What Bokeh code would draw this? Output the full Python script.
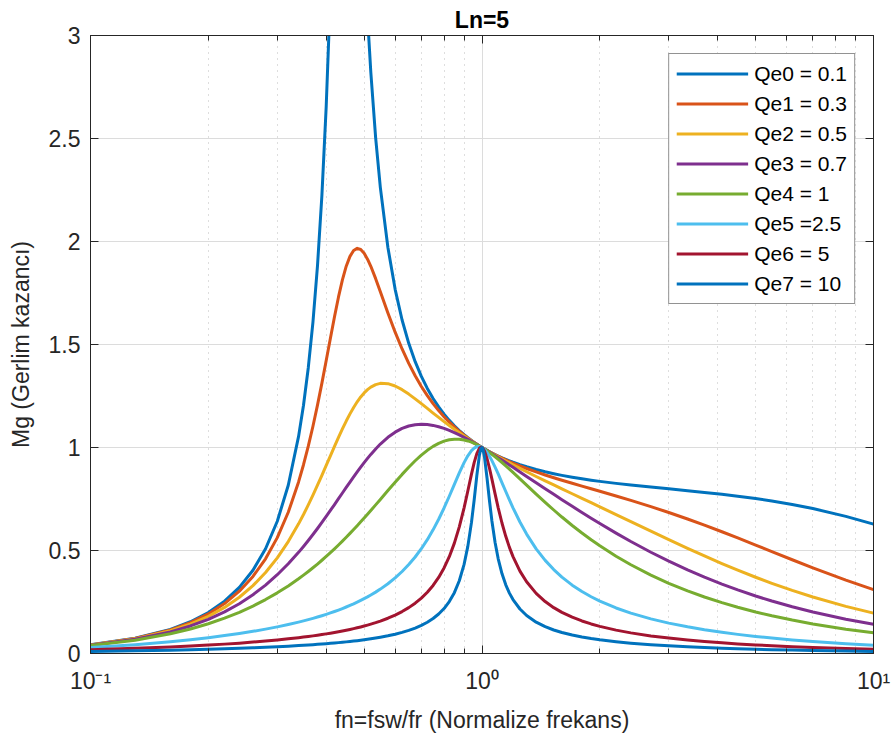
from bokeh.plotting import figure
from bokeh.models import FixedTicker, LogAxis, LinearAxis, Legend, LegendItem, Range1d
from bokeh.embed import file_html
from bokeh.resources import INLINE

# ---- data ----
fn = [0.1, 0.13, 0.16, 0.18, 0.2, 0.22, 0.24, 0.26, 0.28, 0.3,
      0.32, 0.34, 0.35, 0.36, 0.37, 0.38, 0.39, 0.4, 0.41, 0.42,
      0.43, 0.44, 0.45, 0.46, 0.47, 0.48, 0.49, 0.5, 0.51, 0.52,
      0.535, 0.55, 0.575, 0.6, 0.625, 0.65, 0.675, 0.7, 0.725, 0.75,
      0.775, 0.8, 0.825, 0.85, 0.875, 0.9, 0.92, 0.94, 0.955, 0.97,
      0.985, 0.993, 1.0, 1.007, 1.015, 1.03, 1.045, 1.06, 1.08, 1.1,
      1.125, 1.15, 1.175, 1.2, 1.25, 1.3, 1.375, 1.45, 1.525, 1.6,
      1.7, 1.8, 1.9, 2.0, 2.2, 2.4, 2.7, 3.0, 3.35, 3.7,
      4.1, 4.5, 5.0, 5.5, 6.2, 7.0, 8.5, 10.0]

qe0 = [0.0421, 0.0737, 0.1171, 0.1541, 0.1991, 0.2539, 0.3210, 0.4041, 0.5085, 0.6420,
       0.8170, 1.0538, 1.2054, 1.3874, 1.6088, 1.8820, 2.2237, 2.6560, 3.2036, 3.8801,
       4.6448, 5.3227, 5.6213, 5.4176, 4.9109, 4.3475, 3.8452, 3.4300, 3.0939, 2.8217,
       2.5032, 2.2618, 1.9709, 1.7677, 1.6188, 1.5055, 1.4166, 1.3452, 1.2868, 1.2381,
       1.1971, 1.1620, 1.1318, 1.1055, 1.0824, 1.0620, 1.0474, 1.0340, 1.0247, 1.0159,
       1.0077, 1.0036, 1.0, 0.9966, 0.9927, 0.9858, 0.9793, 0.9732, 0.9655, 0.9583,
       0.9499, 0.9422, 0.9351, 0.9285, 0.9167, 0.9063, 0.8931, 0.8821, 0.8728, 0.8647,
       0.8556, 0.8479, 0.8413, 0.8355, 0.8258, 0.8178, 0.8079, 0.7994, 0.7905, 0.7821,
       0.7728, 0.7637, 0.7521, 0.7403, 0.7234, 0.7036, 0.6657, 0.6279]
qe1 = [0.0418, 0.0728, 0.1148, 0.1501, 0.1922, 0.2424, 0.3024, 0.3740, 0.4596, 0.5624,
       0.6856, 0.8328, 0.9163, 1.0065, 1.1032, 1.2057, 1.3127, 1.4220, 1.5307, 1.6351,
       1.7308, 1.8137, 1.8801, 1.9278, 1.9563, 1.9666, 1.9610, 1.9426, 1.9144, 1.8795,
       1.8197, 1.7564, 1.6533, 1.5598, 1.4782, 1.4081, 1.3480, 1.2963, 1.2518, 1.2131,
       1.1793, 1.1495, 1.1232, 1.0998, 1.0788, 1.0599, 1.0461, 1.0333, 1.0243, 1.0158,
       1.0077, 1.0036, 1.0, 0.9966, 0.9927, 0.9857, 0.9790, 0.9727, 0.9646, 0.9570,
       0.9480, 0.9396, 0.9317, 0.9242, 0.9105, 0.8981, 0.8814, 0.8667, 0.8533, 0.8411,
       0.8262, 0.8125, 0.7996, 0.7875, 0.7647, 0.7433, 0.7131, 0.6846, 0.6530, 0.6231,
       0.5909, 0.5609, 0.5262, 0.4946, 0.4551, 0.4159, 0.3563, 0.3104]
qe2 = [0.0412, 0.0711, 0.1106, 0.1428, 0.1803, 0.2236, 0.2731, 0.3295, 0.3932, 0.4645,
       0.5434, 0.6294, 0.6747, 0.7212, 0.7687, 0.8168, 0.8650, 0.9128, 0.9598, 1.0054,
       1.0490, 1.0902, 1.1284, 1.1632, 1.1944, 1.2218, 1.2453, 1.2649, 1.2808, 1.2931,
       1.3054, 1.3114, 1.3100, 1.2985, 1.2806, 1.2592, 1.2361, 1.2127, 1.1896, 1.1672,
       1.1459, 1.1257, 1.1066, 1.0886, 1.0717, 1.0557, 1.0435, 1.0319, 1.0236, 1.0155,
       1.0076, 1.0035, 1.0, 0.9966, 0.9926, 0.9854, 0.9785, 0.9717, 0.9629, 0.9544,
       0.9442, 0.9344, 0.9250, 0.9159, 0.8985, 0.8822, 0.8593, 0.8380, 0.8181, 0.7992,
       0.7755, 0.7532, 0.7321, 0.7120, 0.6746, 0.6403, 0.5939, 0.5529, 0.5106, 0.4736,
       0.4367, 0.4047, 0.3702, 0.3408, 0.3062, 0.2742, 0.2287, 0.1959]
qe3 = [0.0404, 0.0688, 0.1050, 0.1337, 0.1660, 0.2020, 0.2418, 0.2852, 0.3321, 0.3823,
       0.4354, 0.4910, 0.5195, 0.5484, 0.5775, 0.6068, 0.6362, 0.6654, 0.6945, 0.7232,
       0.7514, 0.7791, 0.8060, 0.8322, 0.8574, 0.8815, 0.9046, 0.9265, 0.9471, 0.9665,
       0.9931, 1.0167, 1.0495, 1.0745, 1.0925, 1.1042, 1.1107, 1.1129, 1.1115, 1.1073,
       1.1008, 1.0926, 1.0830, 1.0725, 1.0612, 1.0494, 1.0398, 1.0299, 1.0225, 1.0150,
       1.0075, 1.0035, 1.0, 0.9966, 0.9925, 0.9850, 0.9776, 0.9702, 0.9604, 0.9507,
       0.9387, 0.9268, 0.9152, 0.9037, 0.8814, 0.8598, 0.8290, 0.8000, 0.7725, 0.7467,
       0.7144, 0.6845, 0.6567, 0.6309, 0.5843, 0.5437, 0.4916, 0.4482, 0.4059, 0.3706,
       0.3369, 0.3086, 0.2792, 0.2548, 0.2270, 0.2017, 0.1667, 0.1420]
qe4 = [0.0389, 0.0645, 0.0955, 0.1189, 0.1443, 0.1714, 0.2001, 0.2303, 0.2618, 0.2944,
       0.3281, 0.3628, 0.3804, 0.3982, 0.4162, 0.4343, 0.4526, 0.4710, 0.4895, 0.5081,
       0.5268, 0.5455, 0.5642, 0.5830, 0.6017, 0.6204, 0.6391, 0.6576, 0.6760, 0.6943,
       0.7214, 0.7479, 0.7908, 0.8315, 0.8695, 0.9044, 0.9357, 0.9631, 0.9864, 1.0055,
       1.0202, 1.0309, 1.0375, 1.0405, 1.0400, 1.0366, 1.0319, 1.0257, 1.0202, 1.0140,
       1.0073, 1.0035, 1.0, 0.9965, 0.9923, 0.9842, 0.9758, 0.9670, 0.9551, 0.9428,
       0.9271, 0.9112, 0.8953, 0.8794, 0.8480, 0.8175, 0.7741, 0.7337, 0.6966, 0.6625,
       0.6214, 0.5848, 0.5521, 0.5227, 0.4723, 0.4308, 0.3806, 0.3409, 0.3040, 0.2744,
       0.2470, 0.2246, 0.2017, 0.1831, 0.1622, 0.1435, 0.1180, 0.1002]
qe5 = [0.0292, 0.0430, 0.0573, 0.0671, 0.0769, 0.0870, 0.0972, 0.1076, 0.1183, 0.1293,
       0.1406, 0.1523, 0.1583, 0.1644, 0.1706, 0.1770, 0.1835, 0.1901, 0.1969, 0.2039,
       0.2110, 0.2183, 0.2257, 0.2334, 0.2412, 0.2493, 0.2576, 0.2661, 0.2748, 0.2839,
       0.2979, 0.3126, 0.3388, 0.3671, 0.3980, 0.4317, 0.4685, 0.5087, 0.5525, 0.6002,
       0.6517, 0.7064, 0.7634, 0.8211, 0.8767, 0.9266, 0.9598, 0.9848, 0.9973, 1.0040,
       1.0048, 1.0029, 1.0, 0.9960, 0.9900, 0.9756, 0.9574, 0.9363, 0.9050, 0.8716,
       0.8287, 0.7864, 0.7457, 0.7073, 0.6384, 0.5798, 0.5082, 0.4521, 0.4073, 0.3709,
       0.3319, 0.3008, 0.2754, 0.2542, 0.2210, 0.1960, 0.1681, 0.1475, 0.1294, 0.1154,
       0.1029, 0.0929, 0.0829, 0.0749, 0.0660, 0.0582, 0.0476, 0.0404]
qe6 = [0.0182, 0.0249, 0.0316, 0.0362, 0.0408, 0.0455, 0.0503, 0.0553, 0.0604, 0.0656,
       0.0711, 0.0767, 0.0796, 0.0826, 0.0856, 0.0888, 0.0919, 0.0952, 0.0985, 0.1020,
       0.1055, 0.1091, 0.1129, 0.1167, 0.1206, 0.1247, 0.1289, 0.1333, 0.1378, 0.1424,
       0.1497, 0.1574, 0.1712, 0.1865, 0.2035, 0.2227, 0.2443, 0.2690, 0.2974, 0.3305,
       0.3693, 0.4152, 0.4701, 0.5359, 0.6147, 0.7070, 0.7886, 0.8709, 0.9267, 0.9705,
       0.9962, 1.0011, 1.0, 0.9942, 0.9821, 0.9465, 0.8993, 0.8465, 0.7747, 0.7071,
       0.6323, 0.5687, 0.5153, 0.4704, 0.4000, 0.3480, 0.2919, 0.2521, 0.2225, 0.1996,
       0.1761, 0.1579, 0.1435, 0.1317, 0.1135, 0.1001, 0.0854, 0.0747, 0.0653, 0.0582,
       0.0518, 0.0467, 0.0416, 0.0376, 0.0331, 0.0292, 0.0239, 0.0202]
qe7 = [0.0098, 0.0130, 0.0163, 0.0185, 0.0207, 0.0230, 0.0254, 0.0278, 0.0303, 0.0329,
       0.0356, 0.0384, 0.0399, 0.0413, 0.0429, 0.0444, 0.0460, 0.0476, 0.0493, 0.0510,
       0.0528, 0.0546, 0.0564, 0.0584, 0.0603, 0.0624, 0.0645, 0.0667, 0.0689, 0.0713,
       0.0749, 0.0788, 0.0858, 0.0936, 0.1024, 0.1123, 0.1235, 0.1366, 0.1518, 0.1698,
       0.1916, 0.2183, 0.2519, 0.2952, 0.3530, 0.4326, 0.5200, 0.6365, 0.7452, 0.8639,
       0.9640, 0.9937, 1.0, 0.9871, 0.9520, 0.8517, 0.7416, 0.6434, 0.5387, 0.4596,
       0.3868, 0.3335, 0.2932, 0.2617, 0.2160, 0.1845, 0.1521, 0.1301, 0.1141, 0.1019,
       0.0895, 0.0800, 0.0725, 0.0665, 0.0572, 0.0503, 0.0429, 0.0375, 0.0327, 0.0291,
       0.0259, 0.0234, 0.0208, 0.0188, 0.0166, 0.0146, 0.0119, 0.0101]

series = [qe0, qe1, qe2, qe3, qe4, qe5, qe6, qe7]
labels = ["Qe0 = 0.1", "Qe1 = 0.3", "Qe2 = 0.5", "Qe3 = 0.7", "Qe4 = 1",
          "Qe5 =2.5", "Qe6 = 5", "Qe7 = 10"]
colors = ["#0072BD", "#D95319", "#EDB120", "#7E2F8E", "#77AC30",
          "#4DBEEE", "#A2142F", "#0072BD"]

x_major = [0.1, 1, 10]
x_minor = [0.2, 0.3, 0.4, 0.5, 0.6, 0.7, 0.8, 0.9, 2, 3, 4, 5, 6, 7, 8, 9]
x_tick_labels = ["10\u207b\u00b9", "10\u2070", "10\u00b9"]
y_major = [0, 0.5, 1, 1.5, 2, 2.5, 3]
y_tick_labels = ["0", "0.5", "1", "1.5", "2", "2.5", "3"]

FONT = "Liberation Sans"
INK = "#262626"

p = figure(width=893, height=745, x_axis_type="log",
           x_range=Range1d(0.1, 10), y_range=Range1d(0, 3),
           output_backend="svg", toolbar_location=None, title="Ln=5")
p.min_border_left = 90
p.min_border_right = 20
p.min_border_top = 35
p.min_border_bottom = 92
p.background_fill_color = "white"
p.border_fill_color = "white"
p.outline_line_color = INK
p.outline_line_width = 1

p.title.text_font = FONT
p.title.text_font_size = "23px"
p.title.text_font_style = "bold"
p.title.align = "center"
p.title.text_color = "#000000"
p.title.standoff = 6

xt = FixedTicker(ticks=x_major, minor_ticks=x_minor)
yt = FixedTicker(ticks=y_major, minor_ticks=[])

for ax in p.xaxis:
    ax.ticker = xt
    ax.major_label_overrides = dict(zip(x_major, x_tick_labels))
    ax.axis_label = "fn=fsw/fr (Normalize frekans)"
for ax in p.yaxis:
    ax.ticker = yt
    ax.major_label_overrides = dict(zip(y_major, y_tick_labels))
    ax.axis_label = "Mg (Gerlim kazancı)"

for ax in list(p.xaxis) + list(p.yaxis):
    ax.axis_line_color = INK
    ax.major_tick_line_color = INK
    ax.minor_tick_line_color = INK
    ax.major_tick_in = 8
    ax.major_tick_out = 0
    ax.minor_tick_in = 5
    ax.minor_tick_out = 0
    ax.major_label_text_font = FONT
    ax.major_label_text_font_size = "23px"
    ax.major_label_text_color = INK
    ax.axis_label_text_font = FONT
    ax.axis_label_text_font_size = "23px"
    ax.axis_label_text_font_style = "normal"
    ax.axis_label_text_color = INK

p.xaxis.major_label_standoff = 14
p.xaxis.axis_label_standoff = 10
p.yaxis.major_label_standoff = 10
p.yaxis.axis_label_standoff = 12

top_axis = LogAxis(ticker=xt, major_label_text_font_size="1px", major_label_text_color=None,
                   major_label_standoff=0,
                   major_tick_in=8, major_tick_out=0, minor_tick_in=5, minor_tick_out=0,
                   axis_line_color=INK, major_tick_line_color=INK, minor_tick_line_color=INK)
p.add_layout(top_axis, "above")
right_axis = LinearAxis(ticker=yt, major_label_text_font_size="1px", major_label_text_color=None,
                        major_label_standoff=0,
                        major_tick_in=8, major_tick_out=0, minor_tick_in=0, minor_tick_out=0,
                        axis_line_color=INK, major_tick_line_color=INK)
p.add_layout(right_axis, "right")

p.xgrid.grid_line_color = "#dcdcdc"
p.xgrid.grid_line_width = 1
p.xgrid.minor_grid_line_color = "#bdbdbd"
p.xgrid.minor_grid_line_dash = "1 5"
p.xgrid.minor_grid_line_width = 1
p.ygrid.grid_line_color = "#dcdcdc"
p.ygrid.grid_line_width = 1

items = []
for ys, lab, col in zip(series, labels, colors):
    r = p.line(fn, ys, line_color=col, line_width=3, line_join="round")
    items.append(LegendItem(label=lab, renderers=[r]))

legend = Legend(items=items, location="top_right")
legend.label_text_font = FONT
legend.label_text_font_size = "21px"
legend.label_text_color = "#000000"
legend.glyph_width = 72
legend.glyph_height = 25
legend.label_height = 25
legend.spacing = 5
legend.padding = 7
legend.label_standoff = 6
legend.margin = 18
legend.border_line_color = INK
legend.border_line_width = 1
legend.background_fill_color = "white"
legend.background_fill_alpha = 1.0
p.add_layout(legend)

open("out.html", "w").write(file_html(p, INLINE))
